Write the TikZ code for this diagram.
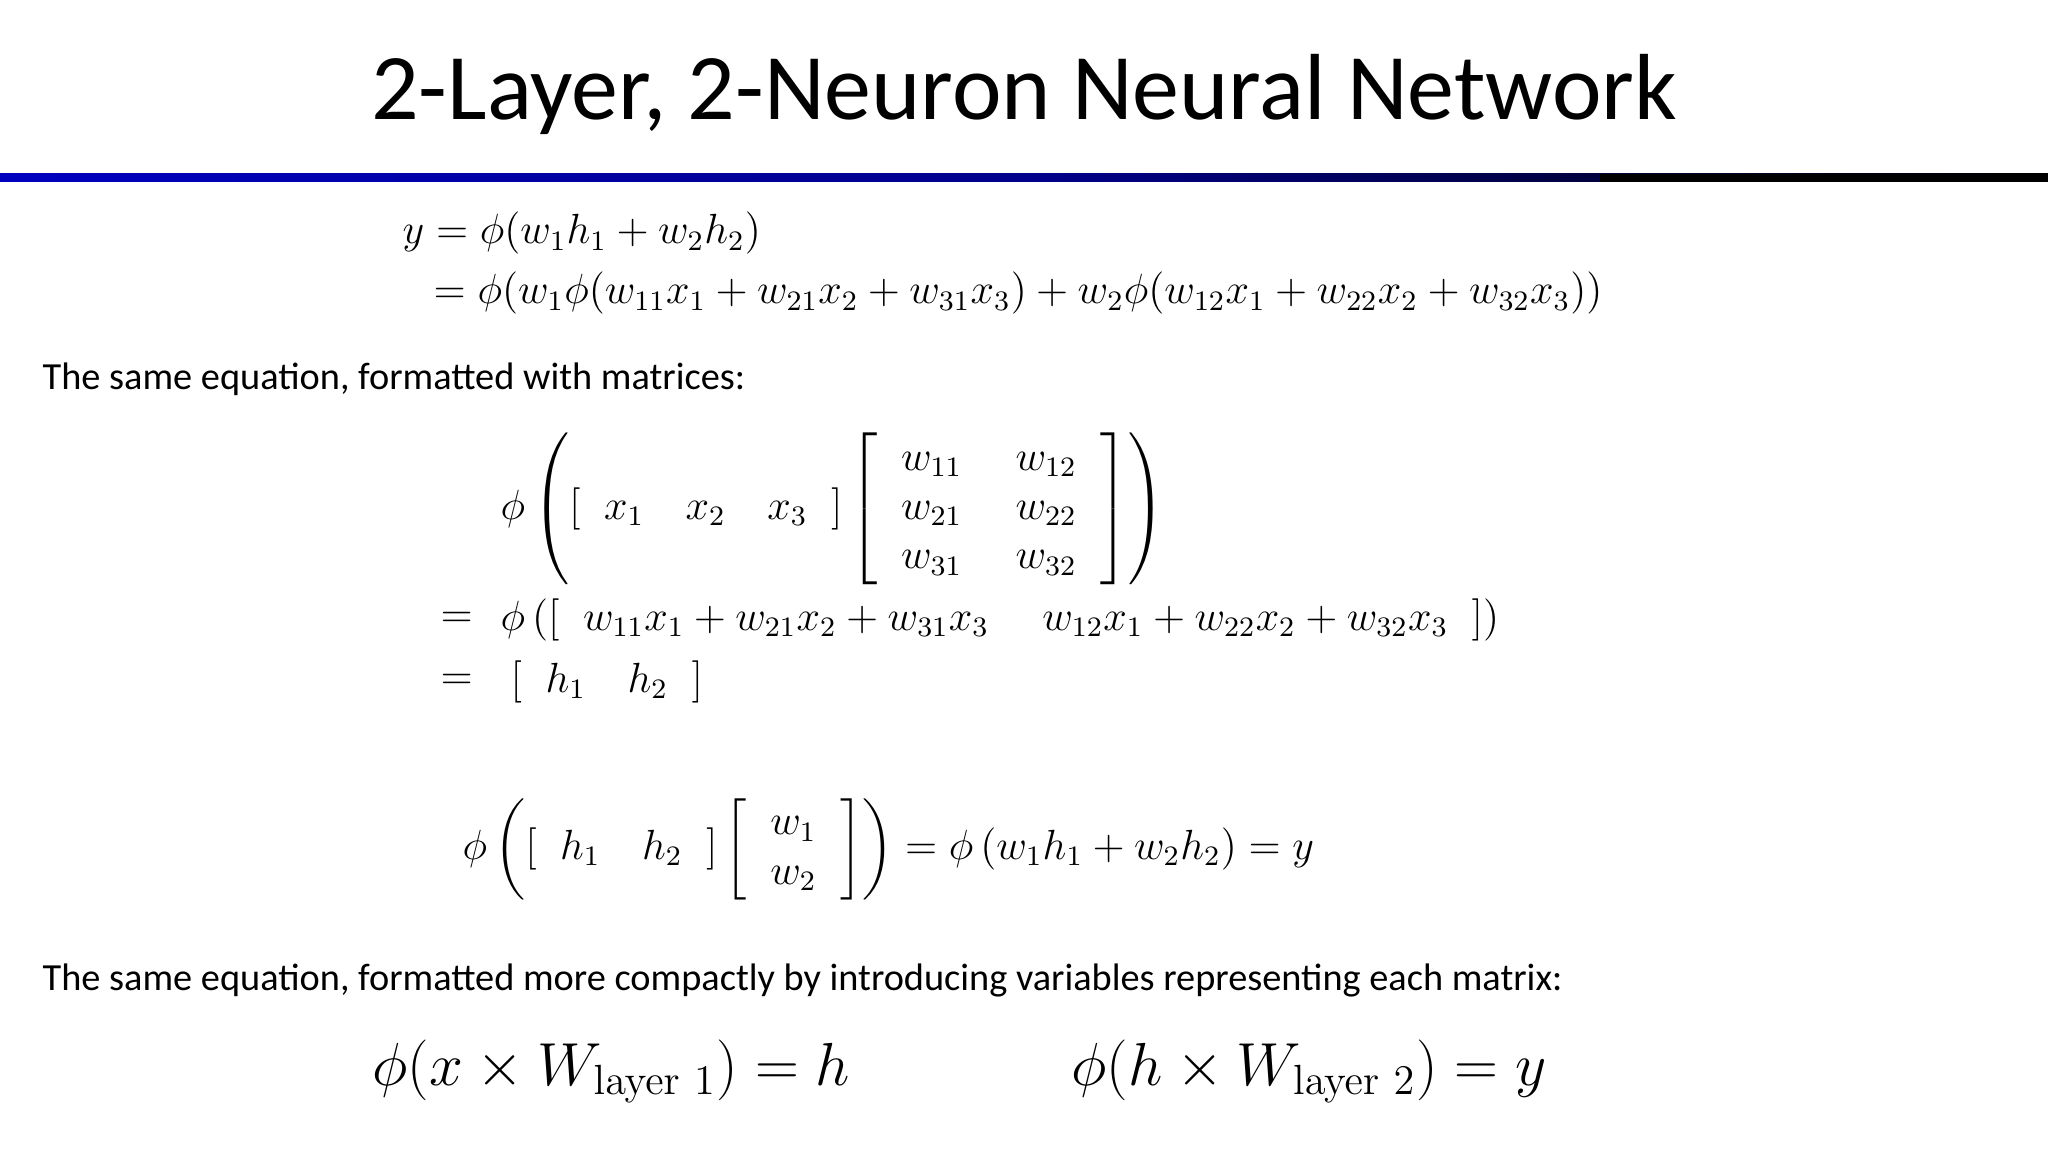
\documentclass[tikz,border=0pt]{standalone}
\usepackage{amsmath}
\usepackage[no-math]{fontspec}
\setmainfont{Carlito}
\usetikzlibrary{shadings}
\newcommand{\pbr}[1]{\left[\;\;#1\;\;\right]}
\begin{document}
\begin{tikzpicture}[x=0.01cm,y=-0.01cm,
  txt/.style={anchor=west,inner sep=0pt,font=\fontsize{10.9}{12}\selectfont},
  eq/.style={anchor=west,inner sep=0pt,font=\fontsize{11.8}{15}\selectfont}]
\useasboundingbox (0,0) rectangle (2048,1152);
\node[inner sep=0pt,font=\fontsize{26.7}{30}\selectfont] (title) at (1024,94) {2-Layer, 2-Neuron Neural Network};
\shade[left color=blue!75!black,right color=black,middle color=blue!55!black] (0,174) rectangle (2048,182);
\fill[black] (1600,174) rectangle (2048,182);
\node[eq,anchor=base west] (e1) at (402,244) {$y = \phi(w_1h_1+w_2h_2)$};
\node[eq,anchor=base west] (e2) at (433,304) {$= \phi(w_1\phi(w_{11}x_1+w_{21}x_2+w_{31}x_3)+w_2\phi(w_{12}x_1+w_{22}x_2+w_{32}x_3))$};
\node[txt] (t1) at (42,379) {The same equation, formatted with matrices:};
\node[eq] (ra) at (500,509) {$\phi\left(\pbr{x_1\quad x_2\quad x_3}\left[\;\;\begin{array}{@{}c@{\quad\;}c@{}} w_{11} & w_{12}\\[-1pt] w_{21} & w_{22}\\[-1pt] w_{31} & w_{32}\end{array}\;\;\right]\right)$};
\node[eq] (eqb) at (440,620) {$=$};
\node[eq] (rb) at (500,620) {$\phi\left(\pbr{w_{11}x_1+w_{21}x_2+w_{31}x_3\quad\; w_{12}x_1+w_{22}x_2+w_{32}x_3}\right)$};
\node[eq] (eqc) at (440,682) {$=$};
\node[eq] (rc) at (510,682) {$\left[\;\; h_1\quad h_2\;\;\right]$};
\node[eq] (m2) at (462,849) {$\phi\left(\pbr{h_1\quad h_2}\left[\;\;\begin{array}{@{}c@{}} w_1\\[-1pt] w_2\end{array}\;\;\right]\right)=\phi\left(w_1h_1+w_2h_2\right)=y$};
\node[txt] (t2) at (42,980) {The same equation, formatted more compactly by introducing variables representing each matrix:};
\node[anchor=west,inner sep=0pt,font=\fontsize{18.3}{22}\selectfont] (c1) at (372,1071) {$\phi(x\times W_{\mathrm{layer}\ 1})=h$};
\node[anchor=west,inner sep=0pt,font=\fontsize{18.3}{22}\selectfont] (c2) at (1071,1071) {$\phi(h\times W_{\mathrm{layer}\ 2})=y$};
\end{tikzpicture}
\end{document}
